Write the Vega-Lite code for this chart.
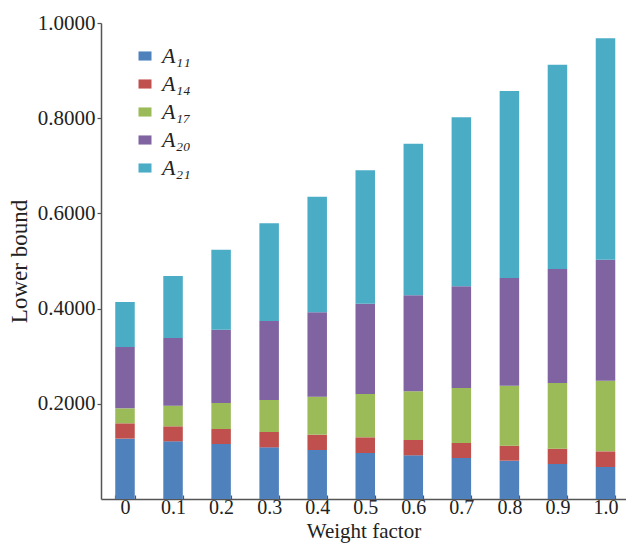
{
  "$schema": "https://vega.github.io/schema/vega-lite/v6.json",
  "width": 525,
  "height": 476,
  "autosize": "none",
  "padding": {"left": 101, "top": 23, "right": 0, "bottom": 47},
  "background": "white",
  "config": {"view": {"stroke": null}, "font": "Liberation Serif"},
  "data": {"values": [
    {"w": "0", "s": "A₁₁", "v": 0.1268}, {"w": "0", "s": "A₁₄", "v": 0.0322}, {"w": "0", "s": "A₁₇", "v": 0.0315}, {"w": "0", "s": "A₂₀", "v": 0.1288}, {"w": "0", "s": "A₂₁", "v": 0.0946},
    {"w": "0.1", "s": "A₁₁", "v": 0.1211}, {"w": "0.1", "s": "A₁₄", "v": 0.0316}, {"w": "0.1", "s": "A₁₇", "v": 0.0434}, {"w": "0.1", "s": "A₂₀", "v": 0.1421}, {"w": "0.1", "s": "A₂₁", "v": 0.1303},
    {"w": "0.2", "s": "A₁₁", "v": 0.1155}, {"w": "0.2", "s": "A₁₄", "v": 0.0316}, {"w": "0.2", "s": "A₁₇", "v": 0.0546}, {"w": "0.2", "s": "A₂₀", "v": 0.1540}, {"w": "0.2", "s": "A₂₁", "v": 0.1681},
    {"w": "0.3", "s": "A₁₁", "v": 0.1085}, {"w": "0.3", "s": "A₁₄", "v": 0.0323}, {"w": "0.3", "s": "A₁₇", "v": 0.0672}, {"w": "0.3", "s": "A₂₀", "v": 0.1659}, {"w": "0.3", "s": "A₂₁", "v": 0.2052},
    {"w": "0.4", "s": "A₁₁", "v": 0.1029}, {"w": "0.4", "s": "A₁₄", "v": 0.0323}, {"w": "0.4", "s": "A₁₇", "v": 0.0798}, {"w": "0.4", "s": "A₂₀", "v": 0.1772}, {"w": "0.4", "s": "A₂₁", "v": 0.2430},
    {"w": "0.5", "s": "A₁₁", "v": 0.0966}, {"w": "0.5", "s": "A₁₄", "v": 0.0330}, {"w": "0.5", "s": "A₁₇", "v": 0.0910}, {"w": "0.5", "s": "A₂₀", "v": 0.1898}, {"w": "0.5", "s": "A₂₁", "v": 0.2801},
    {"w": "0.6", "s": "A₁₁", "v": 0.0917}, {"w": "0.6", "s": "A₁₄", "v": 0.0322}, {"w": "0.6", "s": "A₁₇", "v": 0.1023}, {"w": "0.6", "s": "A₂₀", "v": 0.2017}, {"w": "0.6", "s": "A₂₁", "v": 0.3186},
    {"w": "0.7", "s": "A₁₁", "v": 0.0861}, {"w": "0.7", "s": "A₁₄", "v": 0.0315}, {"w": "0.7", "s": "A₁₇", "v": 0.1156}, {"w": "0.7", "s": "A₂₀", "v": 0.2136}, {"w": "0.7", "s": "A₂₁", "v": 0.3550},
    {"w": "0.8", "s": "A₁₁", "v": 0.0805}, {"w": "0.8", "s": "A₁₄", "v": 0.0315}, {"w": "0.8", "s": "A₁₇", "v": 0.1261}, {"w": "0.8", "s": "A₂₀", "v": 0.2262}, {"w": "0.8", "s": "A₂₁", "v": 0.3928},
    {"w": "0.9", "s": "A₁₁", "v": 0.0735}, {"w": "0.9", "s": "A₁₄", "v": 0.0322}, {"w": "0.9", "s": "A₁₇", "v": 0.1380}, {"w": "0.9", "s": "A₂₀", "v": 0.2395}, {"w": "0.9", "s": "A₂₁", "v": 0.4293},
    {"w": "1.0", "s": "A₁₁", "v": 0.0672}, {"w": "1.0", "s": "A₁₄", "v": 0.0329}, {"w": "1.0", "s": "A₁₇", "v": 0.1485}, {"w": "1.0", "s": "A₂₀", "v": 0.2542}, {"w": "1.0", "s": "A₂₁", "v": 0.4650}
  ]},
  "mark": {"type": "bar"},
  "encoding": {
    "x": {
      "field": "w", "type": "ordinal", "sort": null,
      "scale": {"paddingInner": 0.594, "paddingOuter": 0.26, "align": 0.57},
      "axis": {
        "title": "Weight factor", "titleFontSize": 21, "titleFontWeight": "normal", "titleColor": "#222", "titlePadding": 3,
        "labelFontSize": 20, "labelAngle": 0, "labelColor": "#222", "labelPadding": 2,
        "tickBand": "extent", "tickSize": -4, "tickColor": "#555", "tickWidth": 1.2,
        "domainColor": "#555", "domainWidth": 1.5
      }
    },
    "y": {
      "field": "v", "type": "quantitative", "stack": "zero",
      "scale": {"domain": [0, 1]},
      "axis": {
        "title": "Lower bound", "titleFontSize": 23, "titleFontWeight": "normal", "titleColor": "#222", "titlePadding": 6,
        "values": [0.2, 0.4, 0.6, 0.8, 1.0], "format": ".4f", "grid": false,
        "labelFontSize": 21, "labelColor": "#222", "labelPadding": 2,
        "tickSize": 4, "tickColor": "#555", "tickWidth": 1.2,
        "domainColor": "#555", "domainWidth": 1.5
      }
    },
    "color": {
      "field": "s", "type": "nominal",
      "scale": {"domain": ["A₁₁", "A₁₄", "A₁₇", "A₂₀", "A₂₁"], "range": ["#4F81BD", "#C0504D", "#9BBB59", "#8064A2", "#4BACC6"]},
      "legend": {
        "title": null, "orient": "none", "legendX": 33, "legendY": 22,
        "symbolType": "M-1,-0.7H1V0.7H-1Z", "symbolSize": 169, "symbolStrokeWidth": 0, "symbolOpacity": 1,
        "labelFontSize": 22, "labelFontStyle": "italic", "labelColor": "#222", "labelOffset": 6,
        "rowPadding": 6
      }
    },
    "order": {"field": "s", "type": "nominal", "sort": "ascending"}
  }
}
